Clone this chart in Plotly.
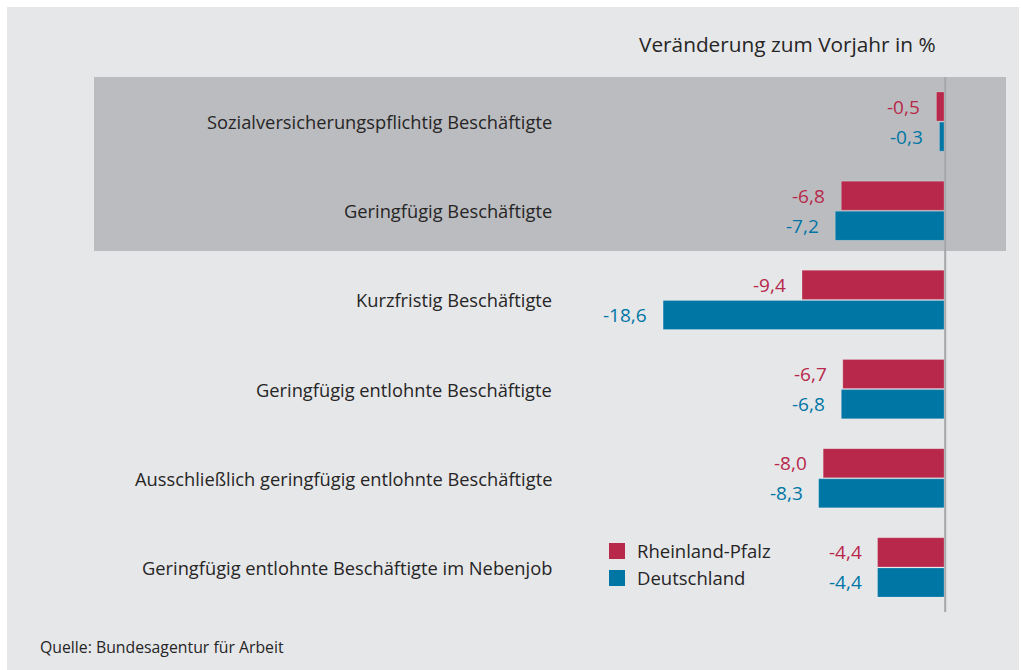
import plotly.graph_objects as go

categories = [
    "Sozialversicherungspflichtig Beschäftigte",
    "Geringfügig Beschäftigte",
    "Kurzfristig Beschäftigte",
    "Geringfügig entlohnte Beschäftigte",
    "Ausschließlich geringfügig entlohnte Beschäftigte",
    "Geringfügig entlohnte Beschäftigte im Nebenjob",
]
rlp = [-0.5, -6.8, -9.4, -6.7, -8.0, -4.4]
de = [-0.3, -7.2, -18.6, -6.8, -8.3, -4.4]
series_names = ["Rheinland-Pfalz", "Deutschland"]

RED = "#b8284a"
BLUE = "#0076a5"
TXT = "#262526"
BG = "#e6e7e9"
BAND = "#bbbcbf"
FONT = "Open Sans"

W, H = 1021, 670
L, R, T, B = 94, 15, 77, 58
pw = W - L - R
ph = H - T - B
zero_px = 944
scale = 15.1
x_min = -(zero_px - L) / scale
x_max = (W - R - zero_px) / scale

ypos = list(range(len(categories)))

fig = go.Figure()
bw = 0.326
fig.add_trace(go.Bar(
    y=ypos, x=rlp, orientation="h", name=series_names[0],
    marker=dict(color=RED, line=dict(color="rgba(255,255,255,0.25)", width=0.8)),
    width=bw, offset=-bw - 0.006, showlegend=False, hoverinfo="x",
))
fig.add_trace(go.Bar(
    y=ypos, x=de, orientation="h", name=series_names[1],
    marker=dict(color=BLUE, line=dict(color="rgba(255,255,255,0.25)", width=0.8)),
    width=bw, offset=0.006, showlegend=False, hoverinfo="x",
))
# legend entries
for nm, col in zip(series_names, [RED, BLUE]):
    fig.add_trace(go.Scatter(
        x=[None], y=[None], mode="markers", name=nm,
        marker=dict(symbol="square", size=17, color=col),
        showlegend=True,
    ))

annotations = []
for i, c in enumerate(categories):
    annotations.append(dict(
        x=(554 - zero_px) / scale, y=i, xref="x", yref="y", text=c,
        showarrow=False, xanchor="right", yanchor="middle",
        font=dict(family=FONT, size=18.3, color=TXT),
    ))
    annotations.append(dict(
        x=rlp[i], y=i - bw / 2 - 0.006, xref="x", yref="y",
        text=f"{rlp[i]:.1f}".replace(".", ","), showarrow=False,
        xanchor="right", yanchor="middle", xshift=-14,
        font=dict(family=FONT, size=19, color=RED),
    ))
    annotations.append(dict(
        x=de[i], y=i + bw / 2 + 0.006, xref="x", yref="y",
        text=f"{de[i]:.1f}".replace(".", ","), showarrow=False,
        xanchor="right", yanchor="middle", xshift=-14,
        font=dict(family=FONT, size=19, color=BLUE),
    ))

annotations.append(dict(
    x=(938 - L) / pw, y=1 + (T - 44) / ph, xref="paper", yref="paper",
    text="Veränderung zum Vorjahr in %", showarrow=False,
    xanchor="right", yanchor="middle",
    font=dict(family=FONT, size=20.8, color=TXT),
))
annotations.append(dict(
    x=(38 - L) / pw, y=-(647 - (T + ph)) / ph, xref="paper", yref="paper",
    text="Quelle: Bundesagentur für Arbeit", showarrow=False,
    xanchor="left", yanchor="middle",
    font=dict(family=FONT, size=15.8, color=TXT),
))

zero_line_x = 1.2 / scale  # sits just right of the bar ends
shapes = [
    # outer gray background (white frame around)
    dict(type="rect", xref="paper", yref="paper",
         x0=(7 - L) / pw, x1=(1019 - L) / pw, y0=-(H - T - ph + 5) / ph, y1=1 + (T - 7) / ph,
         fillcolor=BG, line=dict(width=0), layer="below"),
    # darker band behind first two categories
    dict(type="rect", xref="paper", yref="y", x0=0, x1=1, y0=-0.5, y1=1.45,
         fillcolor=BAND, line=dict(width=0), layer="below"),
    # zero line
    dict(type="line", xref="x", yref="y", x0=zero_line_x, x1=zero_line_x, y0=-0.5, y1=5.5,
         line=dict(color="#a6a7aa", width=2), layer="above"),
]

fig.update_layout(
    width=W, height=H,
    margin=dict(l=L, r=R, t=T, b=B, autoexpand=False),
    paper_bgcolor="white", plot_bgcolor="rgba(0,0,0,0)",
    barmode="overlay",
    xaxis=dict(range=[x_min, x_max], visible=False, fixedrange=True),
    yaxis=dict(range=[5.5, -0.5], visible=False, fixedrange=True),
    annotations=annotations, shapes=shapes,
    showlegend=True,
    legend=dict(x=(597 - L) / pw, y=1 - (565 - T) / ph, xref="paper", yref="paper",
                xanchor="left", yanchor="middle", bgcolor="rgba(0,0,0,0)",
                font=dict(family=FONT, size=18.5, color=TXT), itemclick=False),
    font=dict(family=FONT),
)

fig.write_html(
    "out.html",
    config={"displayModeBar": False},
    post_script="document.body.style.margin='0';document.body.style.overflow='hidden';",
)
